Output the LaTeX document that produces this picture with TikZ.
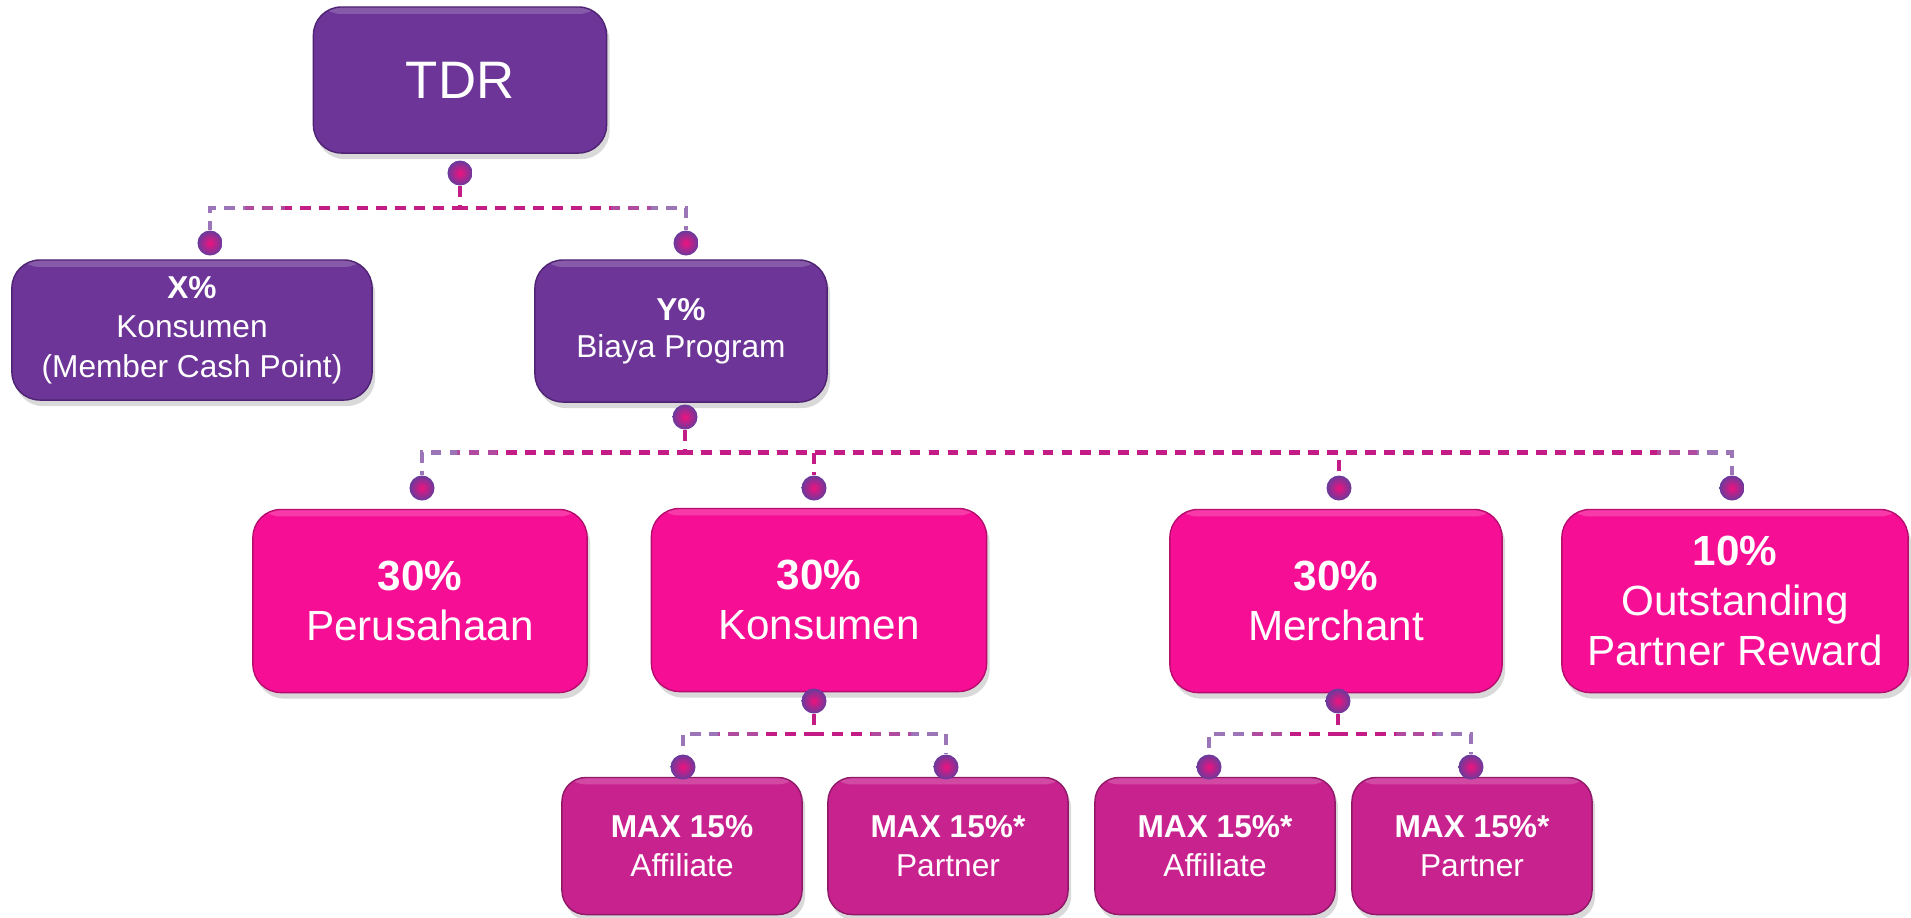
\documentclass[tikz,border=0pt]{standalone}
\usepackage{fontspec}
\setmainfont{Liberation Sans}
\usetikzlibrary{calc, shadows}

\definecolor{boxpurple}{HTML}{6C3597}
\definecolor{boxpurpleedge}{HTML}{4F2373}
\definecolor{boxpink}{HTML}{F60F95}
\definecolor{boxpinkedge}{HTML}{B50C6E}
\definecolor{boxmag}{HTML}{C8228F}
\definecolor{boxmagedge}{HTML}{8F1867}
\definecolor{dotin}{HTML}{F0127F}
\definecolor{dotout}{HTML}{683B9C}
\definecolor{linkend}{HTML}{9C74B8}
\definecolor{linkmid}{HTML}{B04BA0}
\definecolor{linkmag}{HTML}{C41C86}

\begin{document}
\begin{tikzpicture}[
	x=0.01cm, y=-0.01cm,
	every node/.style={text=white, align=center},
	box/.style={rectangle, rounded corners=0.28cm, inner sep=0pt, line width=0.4pt,
		drop shadow={opacity=0.3, shadow xshift=0.03cm, shadow yshift=-0.06cm},
		path picture={\fill[white, opacity=0.18] (path picture bounding box.north west)
			rectangle ([yshift=-0.07cm]path picture bounding box.north east);}},
	purplebox/.style={box, fill=boxpurple, draw=boxpurpleedge},
	pinkbox/.style={box, fill=boxpink, draw=boxpinkedge, minimum height=1.83cm,
		font=\fontsize{12}{14.3}\selectfont},
	subbox/.style={box, rounded corners=0.24cm, fill=boxmag, draw=boxmagedge,
		minimum width=2.4cm, minimum height=1.37cm, font=\fontsize{9}{10.9}\selectfont},
	dot/.style={circle, minimum size=0.25cm, inner sep=0pt, shading=radial,
		inner color=dotin, outer color=dotout},
	link/.style={line width=1.3pt, dash pattern=on 3.1pt off 2.3pt}
	]
	
	\useasboundingbox (0,0) rectangle (1911,917);
	
	% === TOP ===
	\node[purplebox, minimum width=2.93cm, minimum height=1.46cm, font=\fontsize{15}{18}\selectfont]
	(tdr) at (460,80) {TDR};
	
	% === FIRST SPLIT ===
	\node[purplebox, minimum width=3.6cm, minimum height=1.4cm, font=\fontsize{9}{11.2}\selectfont]
	(xkons) at (192,330) {\textbf{X\%}\\Konsumen\\(Member Cash Point)};
	\node[purplebox, minimum width=2.92cm, minimum height=1.42cm, font=\fontsize{9}{10.6}\selectfont]
	(ybiaya) at (681,331) {\textbf{Y\%}\\Biaya Program};
	
	% === PROGRAM SHARES ===
	\node[pinkbox, minimum width=3.34cm] (perus) at (420,601) {\textbf{30\%}\\Perusahaan};
	\node[pinkbox, minimum width=3.35cm] (kons) at (819,600) {\textbf{30\%}\\Konsumen};
	\node[pinkbox, minimum width=3.32cm] (merch) at (1336,601) {\textbf{30\%}\\Merchant};
	\node[pinkbox, minimum width=3.46cm] (reward) at (1735,601) {\textbf{10\%}\\Outstanding\\Partner Reward};
	
	% === MAX SHARES ===
	\node[subbox] (konaff) at (682,846) {\textbf{MAX 15\%}\\Affiliate};
	\node[subbox] (konpar) at (948,846) {\textbf{MAX 15\%*}\\Partner};
	\node[subbox] (meraff) at (1215,846) {\textbf{MAX 15\%*}\\Affiliate};
	\node[subbox] (merpar) at (1472,846) {\textbf{MAX 15\%*}\\Partner};
	
	% === DOTS ===
	\foreach \name/\x/\y in {tdr-b/460/173, xkons-t/210/243, ybiaya-t/686/243,
		ybiaya-b/685/417, perus-t/422/488, kons-t/814/488, merch-t/1339/488,
		reward-t/1732/488, kons-b/814/701, merch-b/1338/701,
		konaff-t/683/767, konpar-t/946/767, meraff-t/1209/767, merpar-t/1471/767} {
		\node[dot] (\name) at (\x,\y) {};
	}
	
	% === DASHED LINKS (light ends, strong middle) ===
	\foreach \p/\l/\r/\kids in {tdr/xkons/ybiaya/{xkons,ybiaya},
		ybiaya/perus/reward/{perus,kons,merch,reward},
		kons/konaff/konpar/{konaff,konpar},
		merch/meraff/merpar/{meraff,merpar}} {
		\foreach \col/\d in {linkend/-40, linkmid/35, linkmag/75} {
			\begin{scope}
				\clip ($(\l-t |- \p-b)+(\d,-20)$) rectangle ($(\r-t)-(\d,-20)$);
				\foreach \c in \kids {
					\draw[link, draw=\col] (\p-b) |- ($(\p-b)!.5!(\c-t)$) -| (\c-t);
				}
			\end{scope}
		}
	}
	
\end{tikzpicture}
\end{document}
